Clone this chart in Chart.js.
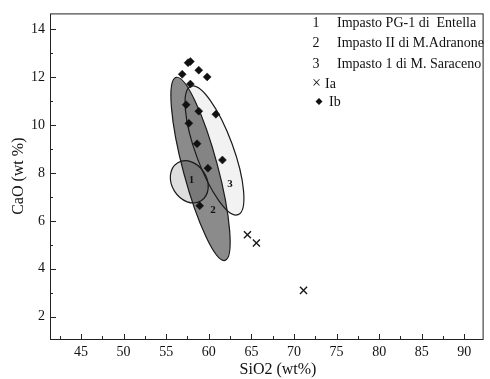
<!DOCTYPE html>
<html>
<head>
<meta charset="utf-8">
<script src="https://cdn.jsdelivr.net/npm/chart.js@4/dist/chart.umd.min.js"></script>
<style>
  html, body { margin: 0; padding: 0; background: #fff; }
  #chart { display: block; }
</style>
</head>
<body>
<canvas id="chart" width="490" height="379"></canvas>
<script>
// SiO2 vs CaO data (wt %)
const iaSiO2 = [64.54, 65.59, 71.12];
const iaCaO = [5.42, 5.08, 3.1];

const ibSiO2 = [57.57, 57.84, 56.88, 58.82, 59.81, 57.84, 57.34, 58.82, 60.83, 57.66, 58.62, 61.6, 59.9, 58.93];
const ibCaO = [12.6, 12.65, 12.12, 12.29, 12.01, 11.71, 10.85, 10.58, 10.45, 10.07, 9.22, 8.54, 8.2, 6.63];

// confidence ellipses for the three impasto groups (data units)
const groupNumbers = ['1', '2', '3'];
const groupNames = ['Impasto PG-1 di  Entella', 'Impasto II di M.Adranone', 'Impasto 1 di M. Saraceno'];
const ellipseCentre = [[57.71, 7.63], [59.03, 8.17], [60.67, 8.94]];
const ellipseMajorEnd = [[56.32, 8.42], [56.16, 11.99], [57.9, 11.62]];
const ellipseMinorEnd = [[59.45, 8.02], [60.99, 8.36], [62.73, 9.22]];
const ellipseLabelAt = [[57.96, 7.68], [60.5, 6.45], [62.5, 7.55]];

const xTicks = [45, 50, 55, 60, 65, 70, 75, 80, 85, 90];
const yTicks = [2, 4, 6, 8, 10, 12, 14];
const xMinorTicks = [42.5, 47.5, 52.5, 57.5, 62.5, 67.5, 72.5, 77.5, 82.5, 87.5];
const yMinorTicks = [3, 5, 7, 9, 11, 13];

const serif = "'Liberation Serif', 'Times New Roman', serif";
const ellipseFill = ['#dedede', '#8b8b8b', '#f2f2f2'];
const drawOrder = [2, 0, 1];

const ellipsePlugin = {
    id: 'ellipses',
    beforeDatasetsDraw(chart) {
        const ctx = chart.ctx;
        const xs = chart.scales.x, ys = chart.scales.y;
        const px = p => [xs.getPixelForValue(p[0]), ys.getPixelForValue(p[1])];

        function tracePath(i) {
            const c = px(ellipseCentre[i]);
            const a = px(ellipseMajorEnd[i]);
            const b = px(ellipseMinorEnd[i]);
            ctx.save();
            ctx.transform(a[0] - c[0], a[1] - c[1], b[0] - c[0], b[1] - c[1], c[0], c[1]);
            ctx.beginPath();
            ctx.arc(0, 0, 1, 0, Math.PI * 2);
            ctx.restore();
        }

        ctx.save();
        ctx.globalCompositeOperation = 'multiply';
        drawOrder.forEach(i => {
            tracePath(i);
            ctx.fillStyle = ellipseFill[i];
            ctx.fill();
        });
        ctx.globalCompositeOperation = 'source-over';
        drawOrder.forEach(i => {
            tracePath(i);
            ctx.strokeStyle = '#1a1a1a';
            ctx.lineWidth = 1.2;
            ctx.stroke();
        });

        // group numbers inside the ellipses
        ctx.fillStyle = '#111';
        ctx.font = 'bold 11px ' + serif;
        ctx.textAlign = 'center';
        ctx.textBaseline = 'middle';
        ellipseLabelAt.forEach((p, i) => {
            const q = px(p);
            ctx.fillText(groupNumbers[i], q[0], q[1]);
        });
        ctx.restore();
    }
};

const framePlugin = {
    id: 'frame',
    afterDraw(chart) {
        const ctx = chart.ctx;
        const area = chart.chartArea;
        const xs = chart.scales.x, ys = chart.scales.y;
        ctx.save();
        ctx.strokeStyle = '#222';
        ctx.lineWidth = 1;
        ctx.strokeRect(area.left + 0.5, area.top + 0.5, area.right - area.left - 1, area.bottom - area.top);

        // inward tick marks
        ctx.beginPath();
        const tick = (v, len, isX) => {
            if (isX) {
                const x = Math.round(xs.getPixelForValue(v)) + 0.5;
                ctx.moveTo(x, area.bottom);
                ctx.lineTo(x, area.bottom - len);
            } else {
                const y = Math.round(ys.getPixelForValue(v)) + 0.5;
                ctx.moveTo(area.left, y);
                ctx.lineTo(area.left + len, y);
            }
        };
        xTicks.forEach(v => tick(v, 5, true));
        xMinorTicks.forEach(v => tick(v, 3, true));
        yTicks.forEach(v => tick(v, 6, false));
        yMinorTicks.forEach(v => tick(v, 3, false));
        ctx.stroke();

        // axis titles
        ctx.fillStyle = '#111';
        ctx.font = '16px ' + serif;
        ctx.textAlign = 'center';
        ctx.textBaseline = 'middle';
        ctx.fillText('SiO2 (wt%)', 278, 370);
        ctx.translate(19, (area.top + area.bottom) / 2);
        ctx.rotate(-Math.PI / 2);
        ctx.fillText('CaO (wt %)', 0, 0);
        ctx.restore();

        // legend
        ctx.save();
        ctx.fillStyle = '#111';
        ctx.font = '14px ' + serif;
        ctx.textBaseline = 'middle';
        groupNames.forEach((name, i) => {
            const y = 23 + i * 20.5;
            ctx.textAlign = 'center';
            ctx.fillText(groupNumbers[i], 316, y);
            ctx.textAlign = 'left';
            ctx.fillText(name, 337, y);
        });
        ctx.textAlign = 'left';
        ctx.font = '16px ' + serif;
        ctx.fillText('\u00d7', 312, 84);
        ctx.font = '14px ' + serif;
        ctx.fillText(chart.data.datasets[0].label, 325, 84);
        ctx.beginPath();
        ctx.moveTo(319, 98);
        ctx.lineTo(322.5, 101.5);
        ctx.lineTo(319, 105);
        ctx.lineTo(315.5, 101.5);
        ctx.closePath();
        ctx.fill();
        ctx.fillText(chart.data.datasets[1].label, 329, 102);
        ctx.restore();
    }
};

const toPoints = (xs, ys) => xs.map((x, i) => ({ x: x, y: ys[i] }));

new Chart(document.getElementById('chart'), {
    type: 'scatter',
    data: {
        datasets: [{
            label: 'Ia',
            data: toPoints(iaSiO2, iaCaO),
            pointStyle: 'crossRot',
            pointRadius: 5,
            borderColor: '#1a1a1a',
            borderWidth: 1.4
        }, {
            label: 'Ib',
            data: toPoints(ibSiO2, ibCaO),
            pointStyle: 'rectRot',
            pointRadius: 4,
            backgroundColor: '#111',
            borderColor: '#111',
            borderWidth: 0.5
        }]
    },
    options: {
        responsive: false,
        animation: false,
        devicePixelRatio: 1,
        layout: { padding: { top: 8, right: 2, left: 0, bottom: 0 } },
        plugins: {
            legend: { display: false },
            tooltip: { enabled: false }
        },
        scales: {
            x: {
                type: 'linear',
                min: 41.36,
                max: 92.26,
                grid: { display: false, drawTicks: false },
                border: { display: false },
                afterBuildTicks: s => { s.ticks = xTicks.map(v => ({ value: v })); },
                afterFit: s => { s.height = 40; },
                ticks: {
                    padding: 5,
                    color: '#111',
                    font: { family: serif, size: 14 },
                    maxRotation: 0
                }
            },
            y: {
                type: 'linear',
                min: 1.07,
                max: 14.66,
                grid: { display: false, drawTicks: false },
                border: { display: false },
                afterBuildTicks: s => { s.ticks = yTicks.map(v => ({ value: v })); },
                afterFit: s => { s.width = 50; },
                ticks: {
                    padding: 5,
                    color: '#111',
                    font: { family: serif, size: 14 }
                }
            }
        }
    },
    plugins: [ellipsePlugin, framePlugin]
});
</script>
</body>
</html>
